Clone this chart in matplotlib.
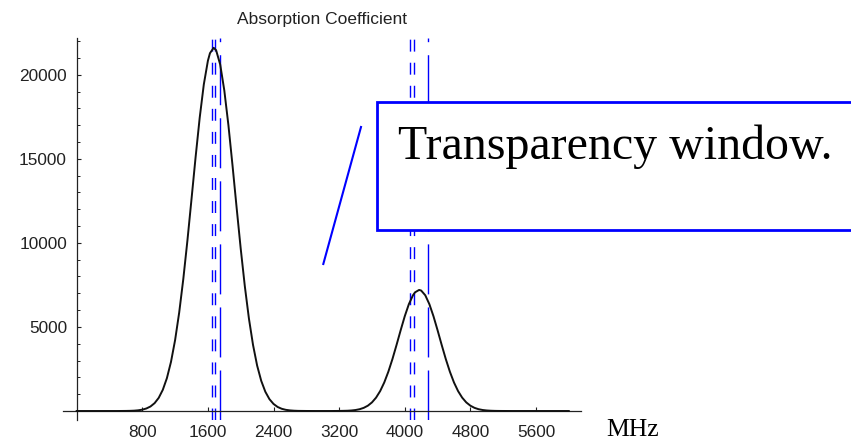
import matplotlib
matplotlib.use("Agg")
import matplotlib.pyplot as plt
from matplotlib.patches import Rectangle
from matplotlib.lines import Line2D

# absorption curve (MHz, coefficient)
freq = [0, 100, 200, 300, 400, 500, 600, 650, 700, 750, 800, 850, 900, 950,
        1000, 1050, 1100, 1150, 1200, 1250, 1300, 1350, 1400, 1450, 1500, 1550,
        1600, 1625, 1670, 1700, 1750, 1800, 1850, 1900, 1950, 2000, 2050, 2100,
        2150, 2200, 2250, 2300, 2350, 2400, 2450, 2500, 2550, 2600, 2650, 2700,
        2800, 2900, 3000, 3100, 3200, 3300, 3350, 3400, 3450, 3500, 3550, 3600,
        3650, 3700, 3750, 3800, 3850, 3900, 3950, 4000, 4050, 4100, 4125, 4175,
        4200, 4250, 4300, 4350, 4400, 4450, 4500, 4550, 4600, 4650, 4700, 4750,
        4800, 4850, 4900, 4950, 5000, 5050, 5100, 5150, 5200, 5300, 5400, 5500,
        5600, 5700, 5800, 5900, 6000]
absorption = [0, 0, 0, 0, 0, 0, 5, 10, 20, 41, 80, 150, 269, 467,
              780, 1259, 1953, 2923, 4216, 5858, 7848, 10128, 12597, 15100, 17444, 19418,
              20831, 21278, 21600, 21457, 20602, 19062, 17000, 14606, 12096, 9653, 7424, 5502,
              3931, 2704, 1795, 1147, 706, 420, 240, 132, 70, 36, 18, 8,
              2, 0, 0, 0, 4, 16, 31, 59, 107, 188, 316, 511,
              794, 1184, 1697, 2338, 3093, 3932, 4803, 5636, 6354, 6883, 7057, 7200,
              7164, 6883, 6354, 5636, 4803, 3932, 3093, 2338, 1697, 1184, 794, 511,
              316, 188, 107, 59, 31, 16, 8, 4, 2, 0, 0, 0,
              0, 0, 0, 0, 0]

# marker lines (MHz)
short_dash_lines = [1653, 1686, 4064, 4116]
long_dash_lines = [1747, 4287]

x_ticks = [800, 1600, 2400, 3200, 4000, 4800, 5600]
y_ticks = [5000, 10000, 15000, 20000]

W, H = 851, 442
fig = plt.figure(figsize=(W / 100, H / 100), dpi=100)
ax = fig.add_axes([63.3 / W, 1 - 420 / H, 517.4 / W, 382.3 / H])
ax.set_xlim(-163, 6145)
ax.set_ylim(-535, 22200)

for s in ['top', 'right']:
    ax.spines[s].set_visible(False)
ax.spines['left'].set_position(('data', 0))
ax.spines['bottom'].set_position(('data', 0))
for s in ['left', 'bottom']:
    ax.spines[s].set_color('#222222')
    ax.spines[s].set_linewidth(0.9)

ax.set_xticks(x_ticks)
ax.set_yticks(y_ticks)
ax.set_yticks(range(1000, 22001, 1000), minor=True)
ax.tick_params(axis='both', which='major', direction='in', length=3, width=0.8,
               color='#222222', labelsize=12.4, labelcolor='#222222')
ax.tick_params(axis='y', which='minor', direction='in', length=1.8, width=0.7, color='#222222')
ax.tick_params(axis='y', which='major', pad=7)
ax.tick_params(axis='x', which='major', pad=10)
for lab in ax.get_xticklabels() + ax.get_yticklabels():
    lab.set_family('Liberation Sans')

ax.plot(freq, absorption, color='#111111', lw=1.4, zorder=3)

for xv in short_dash_lines:
    ax.axvline(xv, color='#0000ff', lw=1.0, dashes=(8.6, 8), zorder=2)
for xv in long_dash_lines:
    ax.axvline(xv, color='#0000ff', lw=1.0, dashes=(36, 9.4), zorder=2)

fig.text(322 / W, 1 - 24 / H, 'Absorption Coefficient', ha='center', va='baseline',
         family='Liberation Sans', fontsize=12.5, color='#222222')

# callout box and pointer
fig.patches.append(Rectangle((376.7 / W, 1 - 230 / H), 490 / W, 128.3 / H,
                             transform=fig.transFigure, facecolor='white',
                             edgecolor='#0000ff', lw=2.0, zorder=10))
fig.text(398 / W, 1 - 159 / H, 'Transparency window.', ha='left', va='baseline',
         family='Liberation Serif', fontsize=34.5, color='black', zorder=11)
fig.lines.append(Line2D([323.3 / W, 361 / W], [1 - 264 / H, 1 - 127 / H],
                        transform=fig.transFigure, color='#0000ff', lw=1.5))

fig.text(606.7 / W, 1 - 435.7 / H, 'MHz', ha='left', va='baseline',
         family='Liberation Serif', fontsize=18.5, color='black')

fig.savefig('out.png', dpi=100)
